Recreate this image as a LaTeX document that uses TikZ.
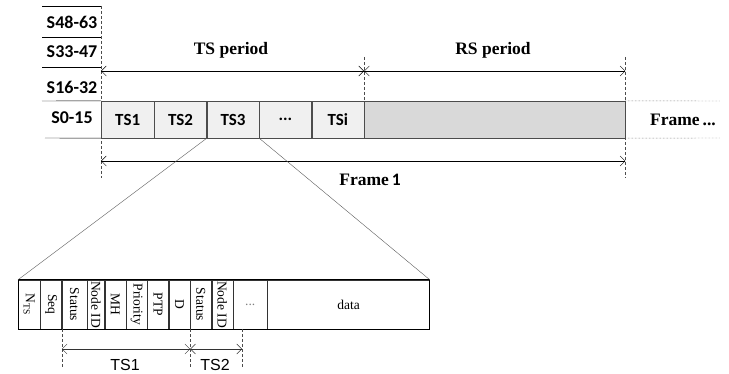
\documentclass[tikz,border=0pt]{standalone}
\usepackage{fontspec}
\setmainfont{Liberation Serif}
\newfontfamily\calfont{Carlito}
\newfontfamily\arialfont{Liberation Sans}
\usetikzlibrary{positioning,arrows.meta}

\begin{document}
\begin{tikzpicture}[x=1pt, y=-1pt,
    slot/.style={draw=black!70, fill=gray!12, minimum height=37pt, inner sep=0pt, font=\calfont\bfseries\fontsize{17}{17}\selectfont},
    field/.style={draw=black!80, minimum height=49pt, inner sep=0pt, font=\fontsize{13.5}{13.5}\selectfont},
    rowlbl/.style={font=\calfont\bfseries\fontsize{18}{18}\selectfont},
    period/.style={font=\bfseries\fontsize{17.5}{17.5}\selectfont},
    tslbl/.style={font=\arialfont\fontsize{16}{16}\selectfont},
    dim/.style={{Straight Barb[length=5pt,width=10pt]}-{Straight Barb[length=5pt,width=10pt]}, thin},
    guide/.style={densely dashed, gray!60!black, thin}
]
    \useasboundingbox (0,0) rectangle (729,374);

    % frame 1, slots
    \node[slot, anchor=west, minimum width=53pt] (ts1) at (101,119.5) {TS1};
    \node[slot, right=0pt of ts1, minimum width=52pt] (ts2) {TS2};
    \node[slot, right=0pt of ts2, minimum width=52pt] (ts3) {TS3};
    \node[slot, right=0pt of ts3, minimum width=52pt] (tsdots) {...};
    \node[slot, right=0pt of tsdots, minimum width=52pt] (tsi) {TSi};
    \node[slot, right=0pt of tsi, minimum width=261pt, fill=gray!30] (rs) {};

    % subframe rows
    \node[rowlbl] (s48) at (72,22) {S48-63};
    \node[rowlbl] (s33) at (72,52) {S33-47};
    \node[rowlbl] (s16) at (72,87) {S16-32};
    \node[rowlbl] (s0) at (72,118) {S0-15};
    \draw (42,6) -- (101,6);
    \draw (42,37) -- (101,37);
    \draw (42,67) -- (101,67);
    \draw (42,101) -- (ts1.north west);
    \draw (45,138) -- (ts1.south west);

    % guides
    \draw[guide] (ts1.west |- 0,6) -- (ts1.west |- 0,178);
    \draw[guide] (tsi.east |- 0,57) -- (tsi.north east);
    \draw[guide] (rs.east |- 0,57) -- (rs.east |- 0,178);
    \draw[densely dotted, gray!60!black] (rs.north east) -- (720,101);
    \draw[densely dotted, gray!60!black] (rs.south east) -- (720,138);

    % periods
    \draw[dim] (ts1.west |- 0,71) -- (tsi.east |- 0,71);
    \draw[dim] (rs.west |- 0,71) -- (rs.east |- 0,71);
    \draw[dim] (ts1.west |- 0,161) -- (rs.east |- 0,161);
    \node[period] (tsp) at (231,50) {TS period};
    \node[period] (rsp) at (493,50) {RS period};
    \node[period] (fr1) at (370,180) {Frame\,{\calfont 1}};
    \node[period] (frn) at (683,120) {Frame\,...};

    % TS3 detail
    \node[field, anchor=west, minimum width=22pt] (f1) at (18,304.5) {\rotatebox{-90}{N\textsubscript{TS}}};
    \node[field, right=0pt of f1, minimum width=21pt] (f2) {\rotatebox{-90}{Seq}};
    \node[field, right=0pt of f2, minimum width=25pt] (f3) {\rotatebox{-90}{Status}};
    \node[field, right=0pt of f3, minimum width=17pt] (f4) {\rotatebox{-90}{Node ID}};
    \node[field, right=0pt of f4, minimum width=21pt] (f5) {\rotatebox{-90}{MH}};
    \node[field, right=0pt of f5, minimum width=21pt] (f6) {\rotatebox{-90}{Priority}};
    \node[field, right=0pt of f6, minimum width=21pt] (f7) {\rotatebox{-90}{PTP}};
    \node[field, right=0pt of f7, minimum width=21pt] (f8) {\rotatebox{-90}{D}};
    \node[field, right=0pt of f8, minimum width=21pt] (f9) {\rotatebox{-90}{Status}};
    \node[field, right=0pt of f9, minimum width=21pt] (f10) {\rotatebox{-90}{Node ID}};
    \node[field, right=0pt of f10, minimum width=34pt, text=gray] (f11) {...};
    \node[field, right=0pt of f11, minimum width=162pt] (f12) {data};
    \draw[thick] (f1.north west) rectangle (f12.south east);

    \draw[gray!70!black] (ts3.south west) -- (f1.north west);
    \draw[gray!70!black] (ts3.south east) -- (f12.north east);

    \draw[guide] (f3.south west) -- (f3.west |- 0,368);
    \draw[guide] (f9.south west) -- (f9.west |- 0,368);
    \draw[guide] (242,329) -- (242,368);
    \draw[dim, gray!40!black] (f3.west |- 0,349) -- (f9.west |- 0,349);
    \draw[dim, gray!40!black] (f9.west |- 0,349) -- (242,349);
    \node[tslbl] (lts1) at (125,365) {TS1};
    \node[tslbl] (lts2) at (215,365) {TS2};
\end{tikzpicture}
\end{document}
